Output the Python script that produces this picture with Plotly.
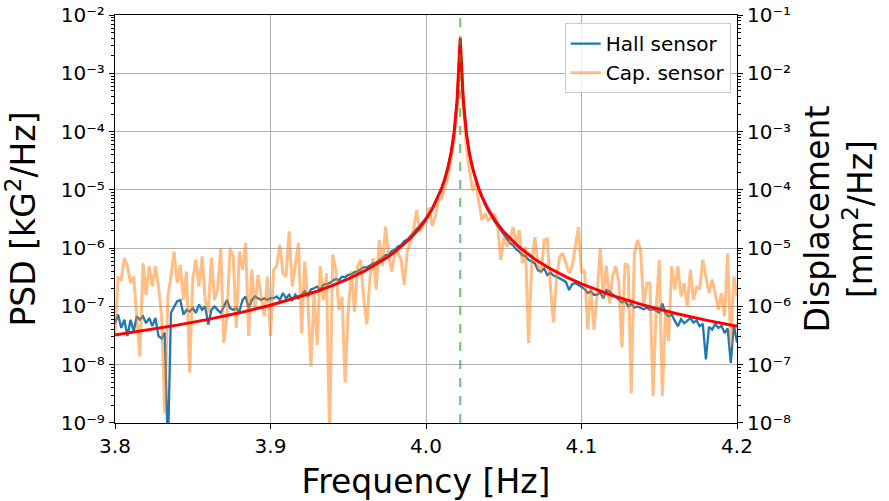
import numpy as np
import plotly.graph_objects as go

# frequency grid of the measured spectra (Hz)
FREQ_START = 3.8
FREQ_STEP = 0.002
N_POINTS = 201

# Hall sensor PSD, log10 [kG^2/Hz]
hall_log10 = [
    -7.29, -7.14, -7.37, -7.23, -7.51, -7.23, -7.43, -7.17, -7.23, -7.17, -7.29,
    -7.20, -7.34, -7.20, -7.51, -7.55, -7.45, -9.50, -7.11, -7.00, -6.91,
    -6.89, -7.14, -7.06, -7.09, -7.03, -7.11, -6.97, -7.06, -7.00, -7.31,
    -7.06, -7.00, -7.06, -7.11, -7.00, -6.89, -7.03, -7.06, -7.03, -7.09,
    -6.89, -6.83, -7.03, -6.89, -6.83, -6.86, -6.89, -6.86, -6.89, -6.86,
    -6.86, -6.83, -6.89, -6.77, -6.86, -6.80, -6.89, -6.80, -6.86, -6.80,
    -6.74, -6.83, -6.71, -6.69, -6.66, -6.71, -6.63, -6.62, -6.60, -6.56,
    -6.53, -6.55, -6.49, -6.50, -6.46, -6.45, -6.41, -6.40, -6.36, -6.33,
    -6.33, -6.29, -6.26, -6.25, -6.20, -6.17, -6.12, -6.11, -6.05, -6.03,
    -5.97, -5.95, -5.88, -5.85, -5.79, -5.74, -5.68, -5.62, -5.55, -5.48,
    -5.40, -5.31, -5.21, -5.10, -4.97, -4.81, -4.62, -4.37, -4.03, -3.46,
    -2.41, -3.47, -4.05, -4.40, -4.65, -4.84, -5.00, -5.14, -5.26, -5.36,
    -5.45, -5.54, -5.62, -5.69, -5.77, -5.83, -5.91, -5.95, -6.02, -6.06,
    -6.12, -6.14, -6.20, -6.23, -6.26, -6.38, -6.40, -6.35, -6.46, -6.42,
    -6.47, -6.49, -6.52, -6.55, -6.58, -6.72, -6.62, -6.60, -6.63, -6.66,
    -6.70, -6.77, -6.74, -6.80, -6.80, -6.76, -6.86, -6.72, -6.74, -6.80,
    -6.83, -6.89, -6.93, -6.90, -7.00, -6.95, -7.02, -7.00, -7.03, -7.05,
    -7.02, -7.06, -7.04, -7.08, -7.11, -6.95, -7.12, -7.17, -7.14, -7.25,
    -7.34, -7.22, -7.29, -7.25, -7.20, -7.28, -7.24, -7.34, -7.30, -7.91,
    -7.35, -7.40, -7.30, -7.37, -7.33, -7.46, -7.38, -7.97, -7.32, -7.62,
]

# capacitive sensor PSD, log10 (plotted against the left scale)
cap_log10 = [
    -7.46, -6.51, -6.54, -6.17, -6.31, -6.60, -6.49, -7.17, -7.86, -6.26, -6.80,
    -6.31, -6.66, -6.31, -6.66, -7.17, -8.83, -6.83, -6.49, -6.06, -6.60,
    -6.29, -6.89, -6.40, -8.14, -6.54, -6.20, -6.66, -6.14, -6.89, -7.11,
    -6.17, -6.89, -6.71, -6.00, -7.63, -7.17, -6.00, -6.14, -7.37, -6.06,
    -6.37, -5.91, -7.51, -6.37, -7.06, -6.46, -6.83, -7.17, -6.49, -7.51,
    -6.37, -6.31, -5.94, -6.43, -6.49, -5.71, -6.66, -6.31, -5.91, -7.46,
    -6.23, -6.89, -8.03, -6.77, -7.66, -6.31, -6.89, -6.43, -9.30, -6.11,
    -6.37, -7.06, -6.83, -8.31, -7.06, -6.40, -7.09, -6.31, -6.20, -6.89,
    -7.31, -6.49, -6.17, -6.71, -5.86, -6.31, -5.63, -6.14, -6.40, -6.09,
    -6.09, -6.20, -6.63, -6.05, -5.90, -5.68, -5.35, -5.72, -5.62, -5.50,
    -5.30, -5.62, -5.45, -5.18, -5.15, -4.95, -4.78, -4.50, -4.15, -3.60,
    -2.50, -3.55, -4.27, -4.67, -5.01, -4.90, -5.24, -5.52, -5.41, -5.52,
    -5.47, -5.41, -5.58, -6.20, -5.81, -5.98, -5.86, -5.64, -5.92, -5.69,
    -6.26, -5.98, -7.63, -6.26, -5.81, -6.32, -6.43, -5.86, -5.84, -6.66,
    -7.28, -6.49, -6.15, -6.09, -6.26, -6.43, -6.32, -5.98, -5.64, -6.43,
    -6.38, -7.40, -6.66, -7.40, -6.83, -6.00, -6.85, -6.30, -6.95, -6.49,
    -6.31, -6.60, -7.70, -6.26, -6.31, -8.49, -6.09, -5.86, -6.03, -7.00,
    -6.60, -6.60, -8.54, -7.06, -6.20, -8.54, -7.06, -7.60, -6.31, -6.71,
    -6.31, -6.83, -6.60, -7.00, -6.37, -6.89, -6.66, -6.71, -6.20, -6.49,
    -6.77, -6.54, -6.77, -7.06, -6.77, -7.17, -6.09, -7.69, -6.49, -6.83,
]

# resonance fit (red curve)
fit_freq = [3.80, 3.82, 3.84, 3.86, 3.88, 3.90, 3.92, 3.93, 3.94, 3.95, 3.96,
            3.97, 3.975, 3.98, 3.985, 3.99, 3.995, 4.000, 4.004, 4.008, 4.010,
            4.012, 4.014, 4.016, 4.018, 4.020, 4.021, 4.022, 4.023, 4.024,
            4.026, 4.028, 4.030, 4.032, 4.034, 4.036, 4.040, 4.045, 4.050,
            4.060, 4.070, 4.080, 4.090, 4.100, 4.120, 4.140, 4.160, 4.180, 4.200]
fit_log10 = [-7.490, -7.411, -7.322, -7.223, -7.111, -6.981, -6.828, -6.740,
             -6.641, -6.529, -6.400, -6.248, -6.161, -6.064, -5.954, -5.829,
             -5.682, -5.505, -5.331, -5.113, -4.979, -4.821, -4.630, -4.382,
             -4.036, -3.462, -2.959, -2.390, -2.960, -3.462, -4.036, -4.383,
             -4.632, -4.823, -4.982, -5.116, -5.334, -5.548, -5.719, -5.986,
             -6.190, -6.355, -6.494, -6.615, -6.815, -6.978, -7.117, -7.236,
             -7.342]

f_peak = 4.022

# decade ticks of the two vertical axes
psd_decades = [-9, -8, -7, -6, -5, -4, -3, -2]
psd_labels = ["10⁻⁹", "10⁻⁸", "10⁻⁷", "10⁻⁶", "10⁻⁵", "10⁻⁴", "10⁻³", "10⁻²"]
disp_decades = [-8, -7, -6, -5, -4, -3, -2, -1]
disp_labels = ["10⁻⁸", "10⁻⁷", "10⁻⁶", "10⁻⁵", "10⁻⁴", "10⁻³", "10⁻²", "10⁻¹"]

FONT = "DejaVu Sans"

freq = np.round(FREQ_START + FREQ_STEP * np.arange(N_POINTS), 4)
hall = 10 ** np.array(hall_log10)
cap = 10 ** np.array(cap_log10)
fit = 10 ** np.array(fit_log10)


def minor_ticks(decades):
    # 2..9 x 10^d between the labelled decades
    vals = [k * 10.0 ** d for d in decades[:-1] for k in range(2, 10)]
    return dict(tickmode="array", tickvals=vals, ticks="outside", ticklen=3,
                tickcolor="black", showgrid=False)


fig = go.Figure()
fig.add_trace(go.Scatter(x=freq, y=hall, mode="lines", name="Hall sensor",
                         line=dict(color="#1f77b4", width=2.3)))
fig.add_trace(go.Scatter(x=freq, y=cap, mode="lines", name="Cap. sensor",
                         opacity=0.5, line=dict(color="#ff7f0e", width=3)))
fig.add_trace(go.Scatter(x=fit_freq, y=fit, mode="lines", showlegend=False,
                         line=dict(color="red", width=3)))
# invisible trace so that the right-hand displacement axis is drawn
fig.add_trace(go.Scatter(x=[None], y=[None], yaxis="y2", showlegend=False,
                         hoverinfo="skip"))

fig.add_vline(x=f_peak, line=dict(color="rgba(44,160,44,0.6)", width=2.3, dash="dash"))

tickfont = dict(family=FONT, size=20, color="black")
titlefont = dict(family=FONT, size=33, color="black")
EPS = 0.002  # keeps the end decades labelled

fig.update_layout(
    width=889, height=501,
    margin=dict(l=115, r=152, t=15, b=78),
    paper_bgcolor="white", plot_bgcolor="white",
    font=dict(family=FONT, color="black"),
    xaxis=dict(
        range=[3.8, 4.2], dtick=0.1, tickformat=".1f", automargin=False,
        showline=True, linecolor="black", linewidth=1.2, mirror=True,
        ticks="outside", ticklen=5, tickcolor="black",
        showgrid=True, gridcolor="#b0b0b0", gridwidth=1, zeroline=False,
        tickfont=tickfont,
        title=dict(text="Frequency [Hz]", font=titlefont),
    ),
    yaxis=dict(
        type="log", range=[-9 - EPS, -2 + EPS], automargin=False,
        tickvals=[10.0 ** d for d in psd_decades], ticktext=psd_labels,
        showline=True, linecolor="black", linewidth=1.2,
        ticks="outside", ticklen=5, tickcolor="black",
        minor=minor_ticks(psd_decades),
        showgrid=True, gridcolor="#b0b0b0", gridwidth=1, zeroline=False,
        tickfont=tickfont, ticklabeloverflow="allow",
        title=dict(text="PSD [kG<sup>2</sup>/Hz]", font=titlefont),
    ),
    yaxis2=dict(
        type="log", range=[-8 - EPS, -1 + EPS], automargin=False,
        tickvals=[10.0 ** d for d in disp_decades], ticktext=disp_labels,
        overlaying="y", side="right",
        showline=True, linecolor="black", linewidth=1.2,
        ticks="outside", ticklen=5, tickcolor="black",
        minor=minor_ticks(disp_decades),
        showgrid=False, zeroline=False,
        tickfont=tickfont, ticklabeloverflow="allow",
        title=dict(text="Displacement<br>[mm<sup>2</sup>/Hz]", font=titlefont),
    ),
    legend=dict(
        x=0.99, y=0.98, xanchor="right", yanchor="top",
        bgcolor="rgba(255,255,255,0.8)", bordercolor="#cccccc", borderwidth=1,
        font=dict(family=FONT, size=20, color="black"),
    ),
    showlegend=True,
)

# drop the default page margin so the figure sits at the window corner
fig.write_html("out.html", config={"displayModeBar": False},
               post_script="document.body.style.margin='0';")
